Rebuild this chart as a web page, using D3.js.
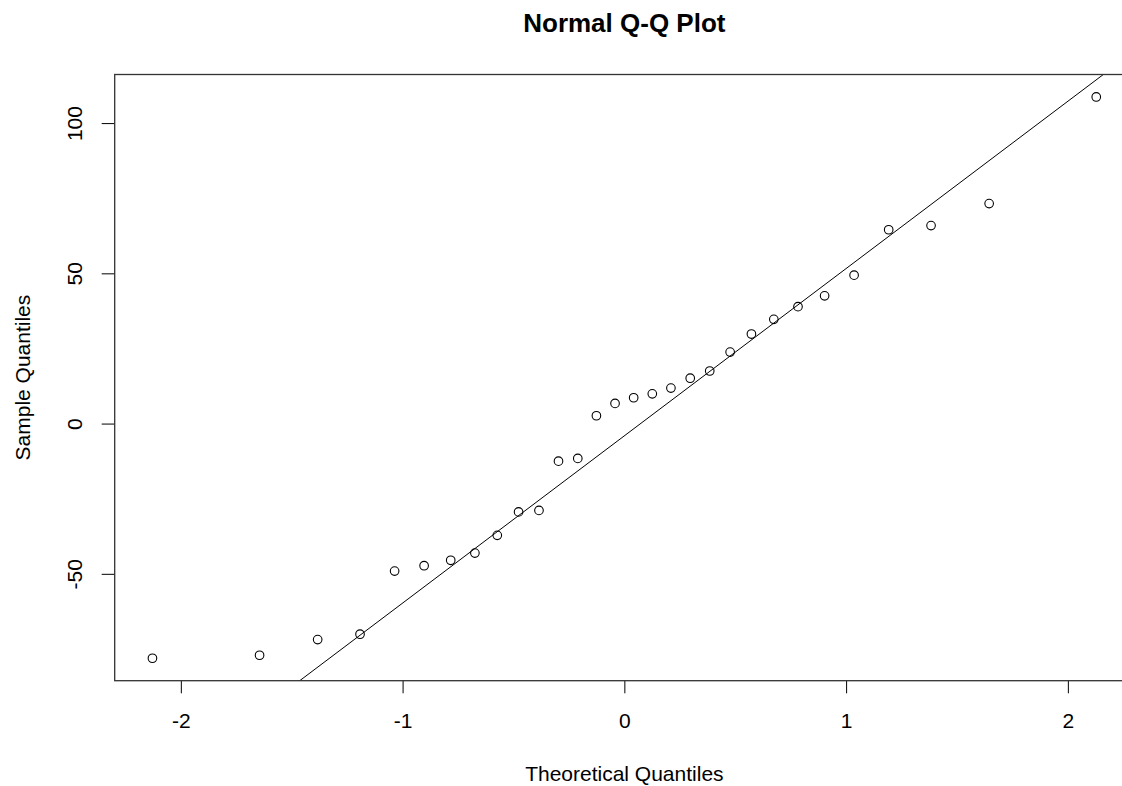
<!DOCTYPE html>
<html>
<head>
<meta charset="utf-8">
<script src="https://cdn.jsdelivr.net/npm/d3@7/dist/d3.min.js"></script>
<style>
  html, body { margin: 0; padding: 0; overflow: hidden; background: #fff; }
  svg { display: block; }
  text { font-family: "Liberation Sans", Arial, Helvetica, sans-serif; fill: #000; }
</style>
</head>
<body>
<svg id="chart" width="1122" height="786"></svg>
<script>
// ---- data ----
const theoreticalQuantiles = [-2.128, -1.645, -1.383, -1.192, -1.036, -0.903, -0.783, -0.674, -0.573, -0.477,
  -0.385, -0.297, -0.210, -0.126, -0.042, 0.042, 0.126, 0.210, 0.297, 0.385,
  0.477, 0.573, 0.674, 0.783, 0.903, 1.036, 1.192, 1.383, 1.645, 2.128];
const sampleQuantiles = [-78.1, -77.1, -71.9, -70.1, -49.1, -47.3, -45.5, -43.1, -37.2, -29.4,
  -28.9, -12.5, -11.6, 2.6, 6.7, 8.6, 9.9, 11.8, 15.1, 17.5,
  23.8, 29.8, 34.7, 38.9, 42.5, 49.4, 64.5, 65.9, 73.2, 108.7];
const xTicks = [-2, -1, 0, 1, 2];
const yTicks = [-50, 0, 50, 100];
const normalQuartiles = [-0.6745, 0.6745];
const titleText = "Normal Q-Q Plot";
const xLabel = "Theoretical Quantiles";
const yLabel = "Sample Quantiles";

// ---- layout ----
const plot = { left: 114.7, right: 1134, top: 74.5, bottom: 680.7 };
const svg = d3.select("#chart");

function padded(ext) { const r = ext[1] - ext[0]; return [ext[0] - 0.04 * r, ext[1] + 0.04 * r]; }

const x = d3.scaleLinear().domain(padded(d3.extent(theoreticalQuantiles))).range([plot.left, plot.right]);
const y = d3.scaleLinear().domain(padded(d3.extent(sampleQuantiles))).range([plot.bottom, plot.top]);

svg.append("defs").append("clipPath").attr("id", "plotclip")
  .append("rect").attr("x", plot.left).attr("y", plot.top)
  .attr("width", plot.right - plot.left).attr("height", plot.bottom - plot.top);

const fmt = d => String(d);

// x axis
const xAxis = svg.append("g").attr("transform", `translate(0,${plot.bottom})`)
  .call(d3.axisBottom(x).tickValues(xTicks).tickSize(12.6).tickFormat(fmt));
xAxis.select(".domain").remove();
xAxis.selectAll(".tick line").attr("stroke", "#000").attr("stroke-width", 1);
xAxis.selectAll(".tick text").attr("y", 47.6).attr("dy", 0)
  .style("font-size", "21px").style("font-family", "'Liberation Sans', Arial, sans-serif").attr("fill", "#000");

// y axis
const yAxis = svg.append("g").attr("transform", `translate(${plot.left},0)`)
  .call(d3.axisLeft(y).tickValues(yTicks).tickSize(13).tickFormat(fmt));
yAxis.select(".domain").remove();
yAxis.selectAll(".tick line").attr("stroke", "#000").attr("stroke-width", 1);
yAxis.selectAll(".tick text").attr("transform", "rotate(-90)")
  .attr("x", 0).attr("y", -33).attr("dy", 0).attr("text-anchor", "middle")
  .style("font-size", "21px").style("font-family", "'Liberation Sans', Arial, sans-serif").attr("fill", "#000");

// qq line through quartiles
const q1 = d3.quantile(sampleQuantiles, 0.25);
const q3 = d3.quantile(sampleQuantiles, 0.75);
const slope = (q3 - q1) / (normalQuartiles[1] - normalQuartiles[0]);
const intercept = q1 - slope * normalQuartiles[0];
const xd = x.domain();
svg.append("line").attr("clip-path", "url(#plotclip)")
  .attr("x1", x(xd[0])).attr("y1", y(intercept + slope * xd[0]))
  .attr("x2", x(xd[1])).attr("y2", y(intercept + slope * xd[1]))
  .attr("stroke", "#000").attr("stroke-width", 1);

// points
svg.append("g").selectAll("circle")
  .data(theoreticalQuantiles.map((t, i) => [t, sampleQuantiles[i]]))
  .join("circle")
  .attr("cx", d => x(d[0])).attr("cy", d => y(d[1])).attr("r", 4.3)
  .attr("fill", "none").attr("stroke", "#000").attr("stroke-width", 1.1);

// box
svg.append("rect").attr("x", plot.left).attr("y", plot.top)
  .attr("width", plot.right - plot.left).attr("height", plot.bottom - plot.top)
  .attr("fill", "none").attr("stroke", "#333").attr("stroke-width", 1.3);

// title and labels
svg.append("text").attr("x", (plot.left + plot.right) / 2).attr("y", 32)
  .attr("text-anchor", "middle").style("font-size", "26px").style("font-weight", "bold").text(titleText);
svg.append("text").attr("x", (plot.left + plot.right) / 2).attr("y", 780.7)
  .attr("text-anchor", "middle").style("font-size", "21px").text(xLabel);
svg.append("text").attr("transform", `translate(30,${(plot.top + plot.bottom) / 2}) rotate(-90)`)
  .attr("text-anchor", "middle").style("font-size", "21px").text(yLabel);
</script>
</body>
</html>
